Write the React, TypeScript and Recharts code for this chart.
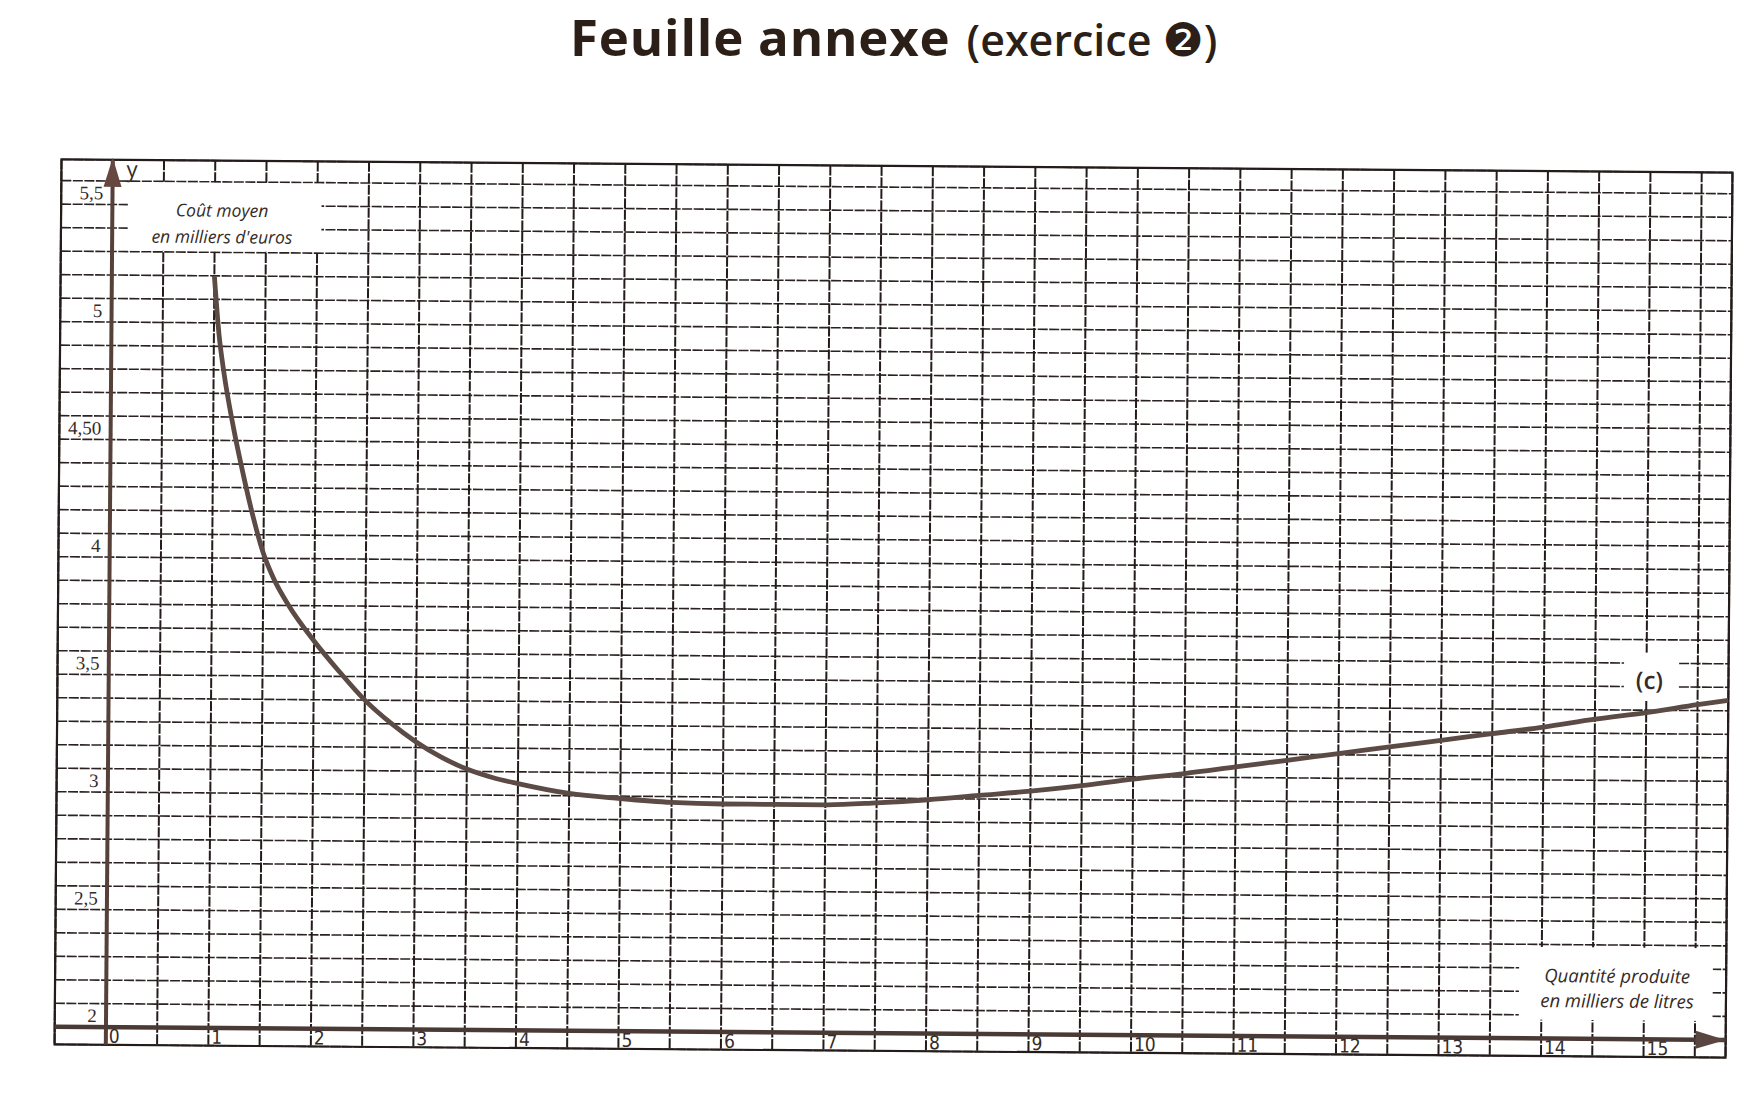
import { LineChart, Line, XAxis, YAxis, CartesianGrid, ReferenceLine, ReferenceArea, ReferenceDot } from 'recharts'

// quantité produite, en milliers de litres
const quantities = [
  1, 1.05, 1.1, 1.2, 1.3, 1.4, 1.5, 1.6, 1.75, 2, 2.25, 2.5, 2.75, 3, 3.25, 3.5, 3.75, 4, 4.5, 5,
  5.5, 6, 6.5, 7, 7.5, 8, 8.5, 9, 9.5, 10, 10.5, 11, 11.5, 12, 12.5, 13, 13.5, 14, 14.5, 15, 15.5,
  15.8,
]

// coût moyen, en milliers d'euros
const averageCost = [
  5.2, 4.95, 4.79, 4.55, 4.35, 4.17, 4.02, 3.915, 3.8, 3.65, 3.52, 3.4, 3.305, 3.225, 3.16, 3.11,
  3.075, 3.05, 3.01, 2.99, 2.975, 2.97, 2.97, 2.97, 2.98, 2.995, 3.015, 3.035, 3.06, 3.09, 3.115,
  3.145, 3.175, 3.205, 3.235, 3.265, 3.295, 3.325, 3.36, 3.39, 3.425, 3.445,
]

const xTickLabels = ['0', '1', '2', '3', '4', '5', '6', '7', '8', '9', '10', '11', '12', '13', '14', '15']
const yTickValues = [2, 2.5, 3, 3.5, 4, 4.5, 5, 5.5]
const yTickLabels = ['2', '2,5', '3', '3,5', '4', '4,50', '5', '5,5']

const data = quantities.map((q, i) => ({ q, cost: averageCost[i] }))

const X_MIN = -0.5
const X_MAX = 15.8
const Y_MIN = 1.925
const Y_MAX = 5.69

// papier millimétré : une ligne verticale par demi-unité, une horizontale par dixième
const gridX = Array.from({ length: 33 }, (_, i) => -0.5 + i * 0.5)
const gridY = Array.from({ length: 37 }, (_, i) => Math.round((2 + i * 0.1) * 10) / 10)

const INK = '#352b27'

function XTick({ x, y, payload }: any) {
  const v = payload.value
  if (!Number.isInteger(v) || v < 0) return <g />
  return (
    <text
      x={x + 3}
      y={y - 2}
      fontSize={19}
      fill={INK}
      fontFamily="'DejaVu Sans Condensed', 'DejaVu Sans', sans-serif"
      style={{ fontStretch: 'condensed' }}
    >
      {xTickLabels[v]}
    </text>
  )
}

function YTick({ x, y, payload }: any) {
  const i = yTickValues.findIndex((v) => Math.abs(v - payload.value) < 1e-6)
  if (i < 0) return <g />
  return (
    <text x={x + 42} y={y - 5} textAnchor="end" fontSize={19} fill={INK} fontFamily="'Liberation Serif', serif">
      {yTickLabels[i]}
    </text>
  )
}

const upArrow = (props: any) => (
  <path d={`M${props.cx},${props.cy - 2} L${props.cx - 9},${props.cy + 27} L${props.cx + 9},${props.cy + 27} Z`} fill="#674840" />
)

const rightArrow = (props: any) => (
  <path d={`M${props.cx},${props.cy} L${props.cx - 30},${props.cy - 9} L${props.cx - 30},${props.cy + 9} Z`} fill="#5a4640" />
)

export default function App() {
  return (
    <div style={{ position: 'absolute', left: 0, top: 0, width: 1760, height: 1095, background: '#fff', overflow: 'hidden' }}>
      <svg width={1760} height={100} style={{ position: 'absolute', left: 0, top: 0 }}>
        <text x={570} y={56} fill="#2c1f17" fontFamily="'Open Sans', sans-serif">
          <tspan fontSize={51} fontWeight={700} letterSpacing={0.8}>Feuille annexe</tspan>
          <tspan fontSize={43} fontWeight={600} dx={16}>(exercice </tspan>
          <tspan fontSize={46} fontFamily="'DejaVu Sans', sans-serif">❷</tspan>
          <tspan fontSize={43} fontWeight={600}>)</tspan>
        </text>
      </svg>

      <div
        style={{
          position: 'absolute',
          left: 0,
          top: 0,
          width: 1760,
          height: 1095,
          transform: 'rotate(0.45deg)',
          transformOrigin: '895px 610px',
        }}
      >
        <LineChart width={1760} height={1095} data={data} margin={{ top: 166, right: 31, bottom: 0, left: 0 }}>
          <CartesianGrid vertical={false} stroke="#2a2220" strokeWidth={1.6} strokeDasharray="10 1.5" />
          <CartesianGrid horizontal={false} stroke="#231c1a" strokeWidth={2} strokeDasharray="10 1.5" />
          <XAxis
            dataKey="q"
            type="number"
            domain={[X_MIN, X_MAX]}
            allowDataOverflow
            ticks={gridX}
            interval={0}
            height={44}
            axisLine={false}
            tickLine={false}
            tickSize={0}
            tickMargin={0}
            tick={<XTick />}
          />
          <YAxis
            type="number"
            domain={[Y_MIN, Y_MAX]}
            allowDataOverflow
            ticks={gridY}
            interval={0}
            width={58}
            axisLine={false}
            tickLine={false}
            tickSize={0}
            tickMargin={0}
            tick={<YTick />}
          />
          <ReferenceArea x1={X_MIN} x2={X_MAX} y1={Y_MIN} y2={Y_MAX} fill="none" stroke="#231c1a" strokeWidth={2.2} />
          <ReferenceArea x1={0.15} x2={2.04} y1={5.305} y2={5.595} fill="#fff" fillOpacity={1} stroke="none" />
          <ReferenceArea x1={13.78} x2={15.67} y1={2.08} y2={2.39} fill="#fff" fillOpacity={1} stroke="none" />
          <ReferenceArea x1={14.78} x2={15.31} y1={3.44} y2={3.645} fill="#fff" fillOpacity={1} stroke="none" />
          <ReferenceLine x={0} stroke="#56403a" strokeWidth={4} />
          <ReferenceLine y={2} stroke="#4a3a36" strokeWidth={4.5} />
          <Line
            dataKey="cost"
            type="monotone"
            stroke="#5c4b45"
            strokeWidth={4.8}
            dot={false}
            isAnimationActive={false}
          />
          <ReferenceDot x={0} y={Y_MAX} r={0} ifOverflow="visible" shape={upArrow} />
          <ReferenceDot x={X_MAX} y={2} r={0} ifOverflow="visible" shape={rightArrow} />
        </LineChart>

        <svg width={1760} height={1095} style={{ position: 'absolute', left: 0, top: 0, pointerEvents: 'none' }}>
          <g fontFamily="'Open Sans', sans-serif" fill={INK}>
            <text x={123} y={183} fontSize={22}>y</text>
            <text x={219} y={222} fontSize={17.5} fontStyle="italic" textAnchor="middle">Coût moyen</text>
            <text x={219} y={248.5} fontSize={17.5} fontStyle="italic" textAnchor="middle">en milliers d'euros</text>
            <text x={1620} y={977} fontSize={18.5} fontStyle="italic" textAnchor="middle">Quantité produite</text>
            <text x={1620} y={1002} fontSize={18.5} fontStyle="italic" textAnchor="middle">en milliers de litres</text>
            <text x={1650} y={683} fontSize={24} fontWeight={600} textAnchor="middle">(c)</text>
          </g>
        </svg>
      </div>
    </div>
  )
}
